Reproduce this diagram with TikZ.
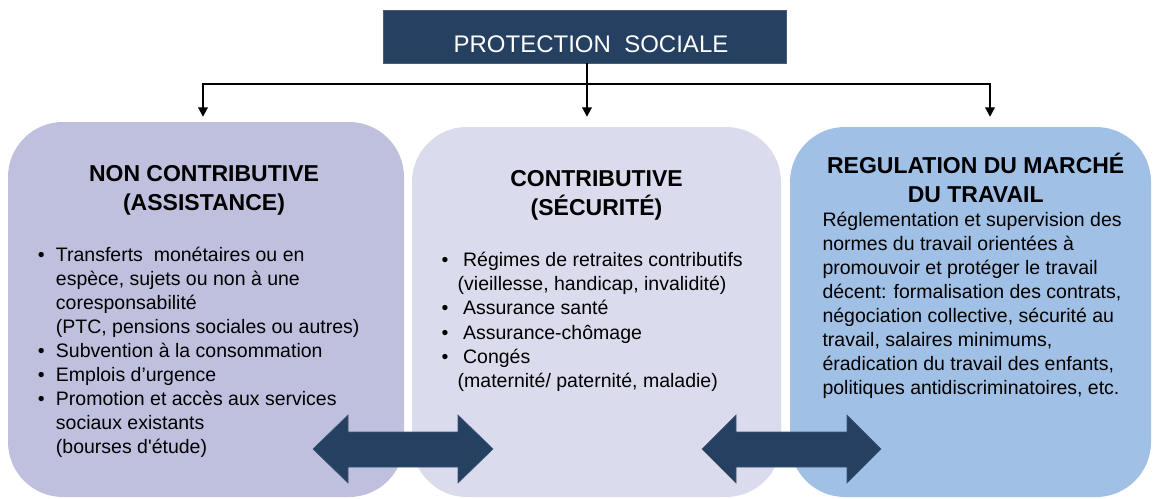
\documentclass[tikz,border=0pt]{standalone}
\usepackage{fontspec}
\setmainfont{Liberation Sans}
\usetikzlibrary{arrows.meta}
\definecolor{navy}{HTML}{264061}
\definecolor{panelA}{HTML}{BFC0DE}
\definecolor{panelB}{HTML}{DADBEC}
\definecolor{panelC}{HTML}{A0C0E6}
\definecolor{arrowedge}{HTML}{3B5478}
\begin{document}
\begin{tikzpicture}[x=1pt,y=-1pt,
  panel/.style={rectangle, rounded corners=55pt, inner sep=0pt, draw=none},
  topbox/.style={rectangle, fill=navy, draw=navy!85!white, line width=0.6pt, inner sep=0pt, minimum width=403pt, minimum height=53pt},
  toptxt/.style={inner sep=0pt, anchor=base, text=white, font=\fontsize{24}{28}\selectfont},
  titletxt/.style={inner sep=0pt, anchor=base, font=\fontsize{23}{28.5}\selectfont\bfseries},
  bodytxt/.style={inner sep=0pt, anchor=base west, font=\fontsize{19.5}{24}\selectfont},
  link/.style={line width=2pt, black},
  arr/.style={link, -{Triangle[width=9.5pt,length=9.5pt]}},
  dblarrow/.style={fill=navy, draw=arrowedge, line width=0.6pt}]
\useasboundingbox (0,0) rectangle (1153,498);

% panels
\node[panel, fill=panelA, minimum width=396pt, minimum height=375pt] (left) at (206,309.5) {};
\node[panel, fill=panelB, minimum width=369pt, minimum height=370pt] (mid) at (596.5,312) {};
\node[panel, fill=panelC, minimum width=361pt, minimum height=370pt] (right) at (970.5,312) {};

% top box
\node[topbox] (top) at (584.5,36.5) {};
\node[toptxt] (toptitle) at (591,52.7) {PROTECTION\ \ SOCIALE};

% connectors
\coordinate (hubL) at (203,84);
\coordinate (hubM) at (587,84);
\coordinate (hubR) at (990,84);
\draw[arr, shorten >=5pt] (hubM) -- (hubL) -- (hubL |- left.north);
\draw[arr, shorten >=10pt] (hubM) -- (hubR) -- (hubR |- right.north);
\draw[arr, shorten >=10pt] (hubM |- top.south) -- (hubM |- mid.north);

% left panel text
\node[titletxt] (ltitle) at (204,181.7) {\begin{tabular}[t]{@{}c@{}}NON CONTRIBUTIVE\\(ASSISTANCE)\end{tabular}};
\node[bodytxt] (lbody) at (37.6,261.5) {\begin{tabular}[t]{@{}l@{\hskip11.3pt}l@{}}
\textbullet & Transferts\ \ monétaires ou en\\
 & espèce, sujets ou non à une\\
 & coresponsabilité\\
 & (PTC, pensions sociales ou autres)\\
\textbullet & Subvention à la consommation\\
\textbullet & Emplois d’urgence\\
\textbullet & Promotion et accès aux services\\
 & sociaux existants\\
 & (bourses d\textquotesingle étude)
\end{tabular}};

% middle panel text
\node[titletxt] (mtitle) at (596.5,186.5) {\begin{tabular}[t]{@{}c@{}}CONTRIBUTIVE\\(SÉCURITÉ)\end{tabular}};
\node[bodytxt, font=\fontsize{19.5}{24.2}\selectfont] (mbody) at (441.3,266.5) {\begin{tabular}[t]{@{}l@{\hskip9.4pt}l@{}}
\textbullet & \ Régimes de retraites contributifs\\
 & (vieillesse, handicap, invalidité)\\
\textbullet & \ Assurance santé\\
\textbullet & \ Assurance-chômage\\
\textbullet & \ Congés\\
 & (maternité/ paternité, maladie)
\end{tabular}};

% right panel text
\node[titletxt, font=\fontsize{23}{29}\selectfont\bfseries] (rtitle) at (975.7,173.3) {\begin{tabular}[t]{@{}c@{}}REGULATION DU MARCHÉ\\DU TRAVAIL\end{tabular}};
\node[bodytxt] (rbody) at (822.3,226.7) {\begin{tabular}[t]{@{}l@{}}
Réglementation et supervision des\\
normes du travail orientées à\\
promouvoir et protéger le travail\\
décent: formalisation des contrats,\\
négociation collective, sécurité au\\
travail, salaires minimums,\\
éradication du travail des enfants,\\
politiques antidiscriminatoires, etc.
\end{tabular}};

% double arrows
\filldraw[dblarrow] (313,449) -- (348,415) -- (348,432) -- (458,432) -- (458,415) -- (493,449)
  -- (458,483) -- (458,467) -- (348,467) -- (348,483) -- cycle;
\filldraw[dblarrow] (702,449) -- (736,415) -- (736,432) -- (847,432) -- (847,415) -- (881,449)
  -- (847,483) -- (847,467) -- (736,467) -- (736,483) -- cycle;
\end{tikzpicture}
\end{document}
